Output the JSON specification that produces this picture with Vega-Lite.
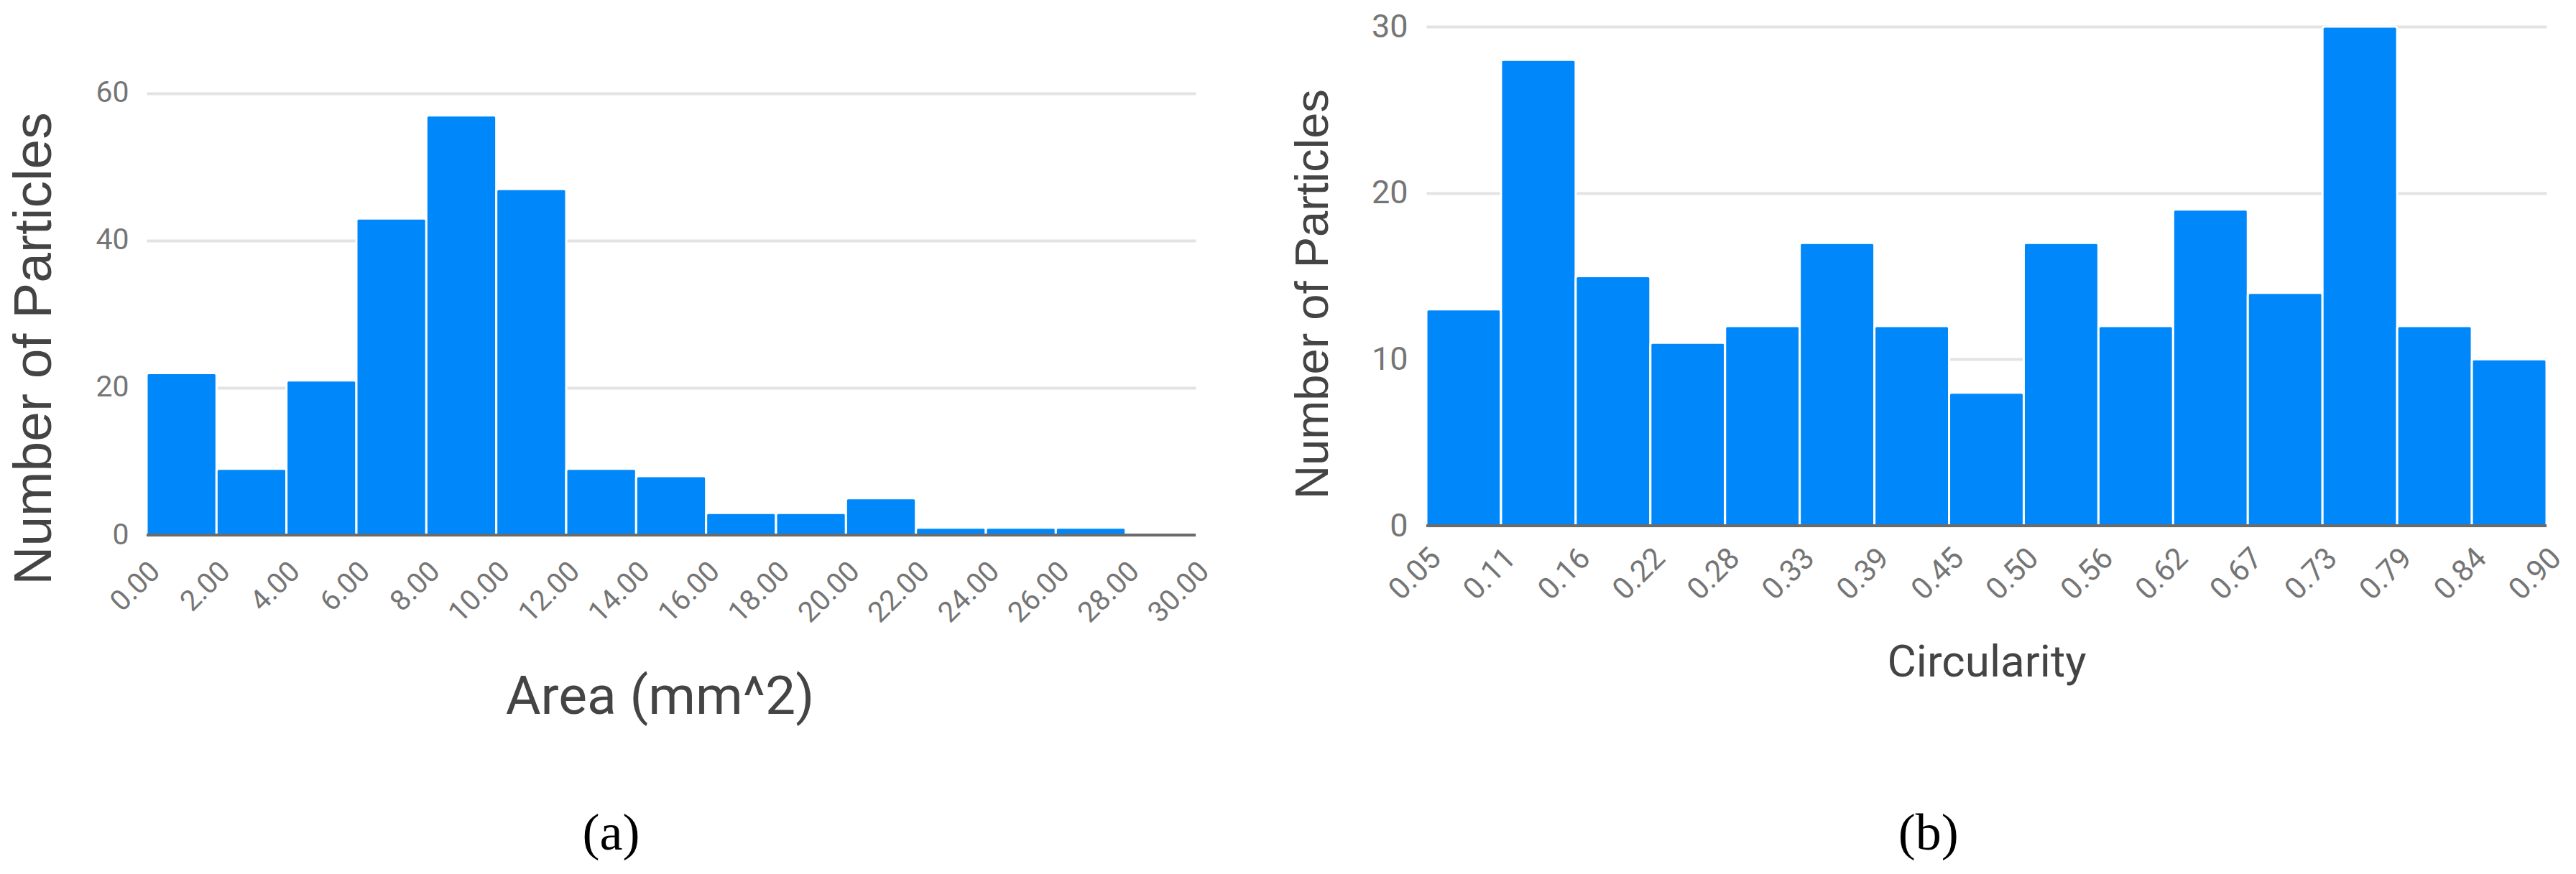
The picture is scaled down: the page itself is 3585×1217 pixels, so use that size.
{
  "$schema": "https://vega.github.io/schema/vega-lite/v6.json",
  "background": "white",
  "padding": {"left": 10, "top": 15, "right": 4, "bottom": 10},
  "bounds": "flush",
  "spacing": 321,
  "config": {
    "view": {"stroke": null},
    "axis": {
      "labelFont": "Roboto",
      "labelColor": "#757575",
      "ticks": false,
      "domain": false,
      "gridColor": "#e3e3e3",
      "gridWidth": 4,
      "labelOverlap": false
    },
    "title": {"font": "Liberation Serif", "color": "#000000", "fontWeight": "normal", "orient": "bottom", "anchor": "middle", "frame": "bounds"}
  },
  "datasets": {
    "area": [
      {"bin_start": 0, "bin_end": 2, "count": 22},
      {"bin_start": 2, "bin_end": 4, "count": 9},
      {"bin_start": 4, "bin_end": 6, "count": 21},
      {"bin_start": 6, "bin_end": 8, "count": 43},
      {"bin_start": 8, "bin_end": 10, "count": 57},
      {"bin_start": 10, "bin_end": 12, "count": 47},
      {"bin_start": 12, "bin_end": 14, "count": 9},
      {"bin_start": 14, "bin_end": 16, "count": 8},
      {"bin_start": 16, "bin_end": 18, "count": 3},
      {"bin_start": 18, "bin_end": 20, "count": 3},
      {"bin_start": 20, "bin_end": 22, "count": 5},
      {"bin_start": 22, "bin_end": 24, "count": 1},
      {"bin_start": 24, "bin_end": 26, "count": 1},
      {"bin_start": 26, "bin_end": 28, "count": 1},
      {"bin_start": 28, "bin_end": 30, "count": 0}
    ],
    "circ": [
      {"bin_start": 0.05, "bin_end": 0.10667, "count": 13},
      {"bin_start": 0.10667, "bin_end": 0.16333, "count": 28},
      {"bin_start": 0.16333, "bin_end": 0.22, "count": 15},
      {"bin_start": 0.22, "bin_end": 0.27667, "count": 11},
      {"bin_start": 0.27667, "bin_end": 0.33333, "count": 12},
      {"bin_start": 0.33333, "bin_end": 0.39, "count": 17},
      {"bin_start": 0.39, "bin_end": 0.44667, "count": 12},
      {"bin_start": 0.44667, "bin_end": 0.50333, "count": 8},
      {"bin_start": 0.50333, "bin_end": 0.56, "count": 17},
      {"bin_start": 0.56, "bin_end": 0.61667, "count": 12},
      {"bin_start": 0.61667, "bin_end": 0.67333, "count": 19},
      {"bin_start": 0.67333, "bin_end": 0.73, "count": 14},
      {"bin_start": 0.73, "bin_end": 0.78667, "count": 30},
      {"bin_start": 0.78667, "bin_end": 0.84333, "count": 12},
      {"bin_start": 0.84333, "bin_end": 0.9, "count": 10}
    ]
  },
  "hconcat": [
    {
      "width": 1460,
      "height": 708,
      "title": {"text": "(a)", "fontSize": 72, "offset": 118},
      "data": {"name": "area"},
      "layer": [
        {
          "mark": {"type": "rect", "color": "#0088fa", "stroke": "white", "strokeWidth": 3, "cornerRadiusTopLeft": 3, "cornerRadiusTopRight": 3},
          "encoding": {
            "x": {"field": "bin_start", "type": "quantitative",
              "scale": {"domain": [0, 30], "nice": false, "zero": false},
              "axis": {"values": [0,2,4,6,8,10,12,14,16,18,20,22,24,26,28,30], "format": ".2f",
                "labelAngle": -45, "labelAlign": "right", "labelBaseline": "middle", "labelPadding": 44, "labelOffset": 12, "labelFontSize": 40,
                "grid": false,
                "title": "Area (mm^2)", "titleFont": "Roboto", "titleFontSize": 75, "titleFontWeight": "normal", "titleColor": "#444444", "titlePadding": 60, "titleX": 714}},
            "x2": {"field": "bin_end"},
            "y": {"field": "count", "type": "quantitative",
              "scale": {"domain": [0, 69.07], "nice": false},
              "axis": {"values": [0, 20, 40, 60], "labelFontSize": 41, "labelPadding": 25,
                "title": "Number of Particles", "titleFont": "Liberation Sans", "titleFontSize": 75, "titleFontWeight": "normal", "titleColor": "#444444", "titlePadding": 46, "titleY": 448}},
            "y2": {"datum": 0}
          }
        },
        {
          "mark": {"type": "rule", "color": "#6b6b6b", "strokeWidth": 4},
          "encoding": {"y": {"datum": 0}}
        }
      ]
    },
    {
      "width": 1559,
      "height": 695,
      "title": {"text": "(b)", "fontSize": 72, "offset": 172},
      "data": {"name": "circ"},
      "layer": [
        {
          "mark": {"type": "rect", "color": "#0088fa", "stroke": "white", "strokeWidth": 3, "cornerRadiusTopLeft": 3, "cornerRadiusTopRight": 3},
          "encoding": {
            "x": {"field": "bin_start", "type": "quantitative",
              "scale": {"domain": [0.05, 0.9], "nice": false, "zero": false},
              "axis": {"values": [0.05, 0.10667, 0.16333, 0.22, 0.27667, 0.33333, 0.39, 0.44667, 0.50333, 0.56, 0.61667, 0.67333, 0.73, 0.78667, 0.84333, 0.9], "format": ".2f",
                "labelAngle": -45, "labelAlign": "right", "labelBaseline": "middle", "labelPadding": 38, "labelOffset": 13, "labelFontSize": 42,
                "grid": false,
                "title": "Circularity", "titleFont": "Roboto", "titleFontSize": 62, "titleFontWeight": "normal", "titleColor": "#444444", "titlePadding": 50}},
            "x2": {"field": "bin_end"},
            "y": {"field": "count", "type": "quantitative",
              "scale": {"domain": [0, 30], "nice": false},
              "axis": {"values": [0, 10, 20, 30], "labelFontSize": 45, "labelPadding": 26,
                "title": "Number of Particles", "titleFont": "Liberation Sans", "titleFontSize": 65, "titleFontWeight": "normal", "titleColor": "#444444", "titlePadding": 47, "titleY": 372}},
            "y2": {"datum": 0}
          }
        },
        {
          "mark": {"type": "rule", "color": "#6b6b6b", "strokeWidth": 4},
          "encoding": {"y": {"datum": 0}}
        }
      ]
    }
  ]
}
